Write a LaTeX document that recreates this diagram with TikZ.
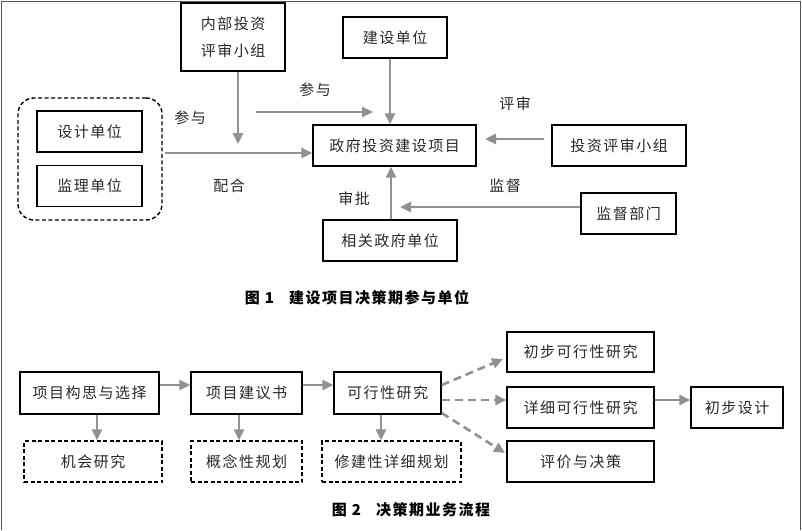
\documentclass[tikz,border=0pt]{standalone}
\usepackage{fontspec}
\setmainfont{Noto Sans CJK SC}
\newfontfamily\boxfont[LetterSpace=10]{Noto Sans CJK SC}
\usetikzlibrary{arrows.meta}
\definecolor{arrowgray}{RGB}{145,145,145}
\definecolor{framegray}{RGB}{85,85,85}
\definecolor{textgray}{RGB}{40,40,40}

\begin{document}
\begin{tikzpicture}[x=1pt,y=-1pt,
  box/.style={draw=black, line width=1.4pt, minimum height=41pt, inner sep=2pt,
    text=textgray, font=\boxfont\fontsize{15}{27}\selectfont, align=center},
  dashedbox/.style={box, dash pattern=on 4pt off 2.5pt},
  flow/.style={-{Triangle[length=11pt,width=10pt]}, draw=arrowgray, line width=2.6pt},
  option/.style={flow, dash pattern=on 8pt off 5pt},
  lbl/.style={text=textgray, font=\boxfont\fontsize{15}{18}\selectfont},
  caption/.style={font=\boxfont\fontsize{15}{18}\selectfont\bfseries}]

\useasboundingbox (0,0) rectangle (802,530);
\draw[framegray, line width=1.5pt] (1.5,530) -- (1.5,1.5) -- (800.5,1.5) -- (800.5,530);

% Figure 1: participants
\node[box, minimum width=104pt, minimum height=68pt] (inner) at (233,37) {内部投资\\评审小组};
\node[box, minimum width=104pt] (build) at (395,37.5) {建设单位};
\node[draw, line width=1.4pt, dash pattern=on 4pt off 2.5pt, rounded corners=16pt,
  minimum width=144pt, minimum height=122pt] (grp) at (90,159) {};
\node[box, minimum width=105pt] (design) at (89.5,131.5) {设计单位};
\node[box, minimum width=105pt] (supervise) at (89.5,186) {监理单位};
\node[box, minimum width=163pt] (project) at (394.5,145.5) {政府投资建设项目};
\node[box, minimum width=134pt] (review) at (619,145.5) {投资评审小组};
\node[box, minimum width=95pt] (monitor) at (628.5,213.5) {监督部门};
\node[box, minimum width=134pt] (gov) at (390,240.5) {相关政府单位};

\node[lbl] (lJoinA) at (190,118) {参与};
\node[lbl] (lJoinB) at (315,90) {参与};
\node[lbl] (lCoop) at (229,186) {配合};
\node[lbl] (lApprove) at (354,199) {审批};
\node[lbl] (lReview) at (515,104) {评审};
\node[lbl] (lWatch) at (505,186) {监督};

\coordinate (innerEnd) at (238,144);
\coordinate (grpOut) at (165,153);
\coordinate (joinStart) at (256,112);
\coordinate (joinEnd) at (373,112);
\coordinate (buildX) at (390,0);
\coordinate (reviewStart) at (544,139);
\coordinate (reviewEnd) at (485,139);
\coordinate (watchEnd) at (400,207);
\coordinate (govX) at (391,0);

\draw[flow] (inner.south -| innerEnd) -- (innerEnd);
\draw[flow] (grpOut) -- (grpOut -| project.west);
\draw[flow] (joinStart) -- (joinEnd);
\draw[flow] (build.south -| buildX) -- (project.north -| buildX);
\draw[flow] (reviewStart) -- (reviewEnd);
\draw[flow] (monitor.west |- watchEnd) -- (watchEnd);
\draw[flow] (gov.north -| govX) -- (project.south -| govX);

\node[caption] (cap1) at (357,298) {图 1\quad 建设项目决策期参与单位};

% Figure 2: decision workflow
\node[box, minimum width=139pt, minimum height=42pt] (idea) at (89.5,393) {项目构思与选择};
\node[box, minimum width=111pt, minimum height=42pt] (proposal) at (246.5,393) {项目建议书};
\node[box, minimum width=107pt, minimum height=42pt] (feasible) at (387.5,393) {可行性研究};
\node[dashedbox, minimum width=138pt] (chance) at (93,461.5) {机会研究};
\node[dashedbox, minimum width=111pt] (concept) at (246.5,461.5) {概念性规划};
\node[dashedbox, minimum width=139pt] (detailplan) at (391.5,461.5) {修建性详细规划};
\node[box, minimum width=147pt, minimum height=40pt] (prelim) at (580.5,352) {初步可行性研究};
\node[box, minimum width=147pt] (detail) at (580.5,407.5) {详细可行性研究};
\node[box, minimum width=147pt] (decide) at (580.5,461.5) {评价与决策};
\node[box, minimum width=92pt] (design2) at (737,407.5) {初步设计};

\coordinate (rowTop) at (0,385);
\coordinate (rowMid) at (0,400);
\coordinate (rowLow) at (0,413);
\coordinate (prelimIn) at (503,359);
\coordinate (decideIn) at (505,453);

\draw[flow] (idea.east |- rowTop) -- (proposal.west |- rowTop);
\draw[flow] (proposal.east |- rowTop) -- (feasible.west |- rowTop);
\draw[flow] (idea.south -| 97,0) -- (chance.north -| 97,0);
\draw[flow] (proposal.south -| 239,0) -- (concept.north -| 239,0);
\draw[flow] (feasible.south -| 381,0) -- (detailplan.north -| 381,0);
\draw[option] (feasible.east |- rowTop) -- (prelimIn);
\draw[option] (feasible.east |- rowMid) -- (detail.west |- rowMid);
\draw[option] (feasible.east |- rowLow) -- (decideIn);
\draw[flow] (detail.east |- rowMid) -- (design2.west |- rowMid);

\node[caption] (cap2) at (411,510) {图 2\quad 决策期业务流程};

\end{tikzpicture}
\end{document}
